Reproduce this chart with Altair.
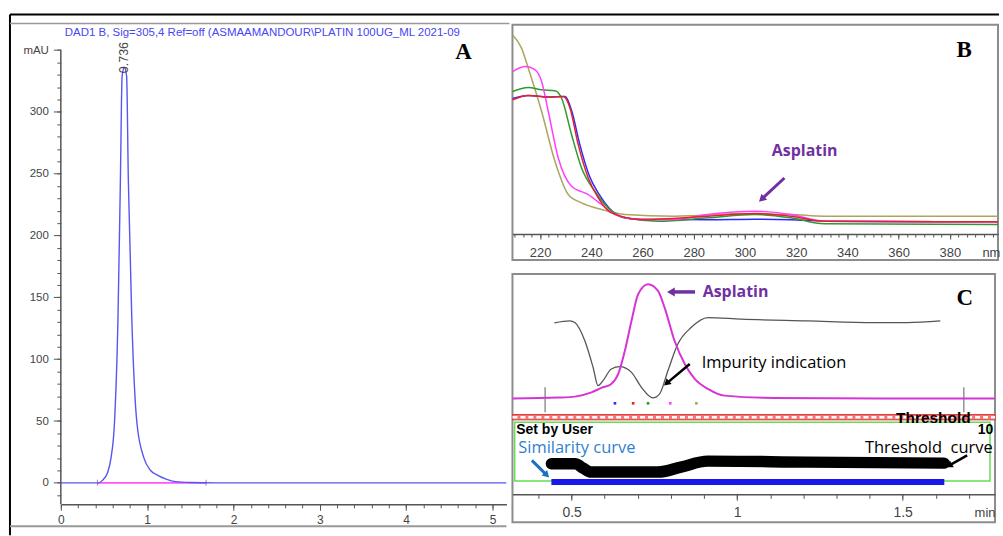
import altair as alt
import pandas as pd

# ================= Panel A : chromatogram =================
a_title = "DAD1 B, Sig=305,4 Ref=off (ASMAAMANDOUR\\PLATIN 100UG_ML 2021-09"
a_time = [0.0, 0.44, 0.481, 0.54, 0.581, 0.621, 0.662, 0.69, 0.71, 0.736, 0.762,
          0.782, 0.822, 0.882, 0.963, 1.04, 1.124, 1.22, 1.325, 1.5, 1.8, 5.16]
a_mau = [0, 0, 2, 8, 20, 48, 133, 245, 329, 336, 329,
         245, 133, 48, 20, 10, 6, 3, 1, 0.3, 0, 0]
a_base_time = [0.424, 1.682]
a_base_mau = [0, 0]
a_peak_label = ["0.736"]
a_x_major = [0, 1, 2, 3, 4, 5]
a_x_minor = [round(i * 0.2, 1) for i in range(0, 26)]
a_y_major = [0, 50, 100, 150, 200, 250, 300, 350]
a_y_minor = list(range(-10, 351, 10))

# ================= Panel B : UV spectra =================
b_names = ["olive", "blue", "green", "magenta", "red"]
b_colors = ["#ABA55E", "#2B2BFF", "#2E9A2E", "#FF3EFF", "#E8202A"]
b_olive_nm = [209.3, 212.8, 215.4, 220.6, 225.8, 231.0, 236.2, 244.0, 253.1, 272.5, 298.5, 317.9, 330.9, 398.8]
b_olive = [199.7, 186.3, 166.3, 123, 73, 39.7, 31.3, 24.7, 19.7, 18, 20.3, 19.7, 18, 18]
b_magenta_nm = [209.3, 214.2, 218.1, 220.6, 223.2, 227.1, 232.3, 238.8, 244.0, 249.2, 259.6, 272.5, 285.5, 303.7, 317.9, 330.9, 398.8]
b_magenta = [163, 168, 164.7, 153, 123, 76.3, 48, 39.7, 29.7, 19.7, 14.7, 14.7, 19.7, 23, 19.7, 13, 12.3]
b_green_nm = [209.3, 215.4, 220.6, 225.8, 228.4, 232.3, 236.2, 241.4, 246.6, 253.1, 266.0, 285.5, 303.7, 317.9, 330.9, 398.8]
b_green = [143, 147, 144.7, 143.7, 136.3, 99.7, 66.3, 43, 26.3, 16.3, 13, 16.3, 19.7, 16.3, 10.3, 9.7]
b_red_nm = [209.3, 215.4, 223.2, 229.1, 231.7, 234.9, 238.8, 242.7, 247.9, 259.6, 285.5, 303.7, 317.9, 330.9, 398.8]
b_red = [134.7, 139, 137.3, 138, 126.3, 89.7, 56.3, 36.3, 21.3, 14.7, 18, 20.7, 18, 13, 12.3]
b_blue_nm = [209.3, 215.4, 223.2, 229.8, 232.3, 235.5, 239.3, 243.0, 247.0, 252.0, 259.6, 285.5, 303.7, 317.9, 330.9, 398.8]
b_blue = [136, 139, 137.5, 138, 124, 90, 58, 40, 26, 17, 14.7, 14.5, 15, 14.5, 13, 12.3]
b_x_major = [220, 240, 260, 280, 300, 320, 340, 360, 380]
b_x_minor = [round(210 + i * 20 / 6, 2) for i in range(0, 57)]

# ================= Panel C : peak purity =================
c_mag_t = [0.321, 0.46, 0.51, 0.56, 0.59, 0.62, 0.641, 0.661, 0.681, 0.701, 0.731,
           0.761, 0.781, 0.811, 0.842, 0.872, 0.912, 0.962, 1.113, 1.779]
c_mag_v = [-0.3, 0.7, 1.7, 6, 10.4, 14.4, 24.4, 47.7, 77.7, 104.4, 114.4,
           107.7, 91, 57.7, 34.4, 19.4, 9.4, 2.7, 0.4, -0.3]
c_ratio_t = [0.448, 0.495, 0.51, 0.54, 0.565, 0.58, 0.595, 0.62, 0.646, 0.681, 0.711,
             0.746, 0.766, 0.791, 0.821, 0.861, 0.912, 1.012, 1.213, 1.414, 1.514, 1.614]
c_ratio_v = [75.7, 77.7, 76, 57.7, 31, 12.7, 17.7, 29.4, 31.7, 26, 11,
             0.4, 4.4, 27.7, 54.4, 71, 81, 79.4, 77.7, 76, 76, 77.7]
c_mark_t = [0.42, 1.685]
c_dot_t = [0.631, 0.686, 0.731, 0.798, 0.877]
c_dot_names = ["blue", "red", "green", "magenta", "olive"]
c_dot_colors = ["#4040FF", "#FF4040", "#40B040", "#FF40FF", "#B0B050"]
c_thr_t = [0.439, 0.511, 0.535, 0.559, 0.761, 0.83, 0.911, 1.212, 1.625]
c_thr_v = [-65.6, -65.6, -70, -74, -74, -69, -63, -64, -65]
c_sim_t = [0.439, 1.626]
c_sim_v = [-84, -84]
c_x_major = [0.5, 1, 1.5]
c_x_minor = [round(0.4 + i * 0.1, 1) for i in range(0, 14)]

# ================= scales (plot geometry) =================
xA = alt.Scale(domain=[0, 5.1617], nice=False, zero=False)
yA = alt.Scale(domain=[-17.34, 370.56], nice=False, zero=False)
xB = alt.Scale(domain=[209.22, 398.79], nice=False, zero=False)
yB = alt.Scale(domain=[-26, 210], nice=False, zero=False)
xC = alt.Scale(domain=[0.3214, 1.7792], nice=False, zero=False)
yC = alt.Scale(domain=[-124.3, 124.7], nice=False, zero=False)


def xy(df, xs, ys, xf="x", yf="y"):
    return dict(x=alt.X(f"{xf}:Q", scale=xs, axis=None), y=alt.Y(f"{yf}:Q", scale=ys, axis=None))


def text(rows, xs, ys, **mk):
    df = pd.DataFrame(rows)
    return alt.Chart(df).mark_text(**mk).encode(text="label:N", **xy(df, xs, ys))


def arrows(rows, xs, ys, color, width, size):
    df = pd.DataFrame(rows)
    shaft = alt.Chart(df).mark_rule(color=color, strokeWidth=width).encode(
        x=alt.X("x0:Q", scale=xs, axis=None), y=alt.Y("y0:Q", scale=ys, axis=None),
        x2="x1:Q", y2="y1:Q")
    head = alt.Chart(df).mark_point(shape="triangle-up", filled=True, color=color,
                                    size=size, opacity=1).encode(
        x=alt.X("x1:Q", scale=xs, axis=None), y=alt.Y("y1:Q", scale=ys, axis=None),
        angle=alt.Angle("ang:Q", scale=None))
    return shaft + head


AXC = dict(domainColor="#555", tickColor="#555", labelColor="#444", grid=False, labelFlush=False)

# ---------------- Panel A ----------------
dfA = pd.DataFrame({"x": a_time, "y": a_mau})
a_axes_major = alt.Chart(dfA).mark_line(strokeOpacity=0).encode(
    x=alt.X("x:Q", scale=xA, title=None,
            axis=alt.Axis(orient="bottom", values=a_x_major, tickSize=6, labelPadding=4,
                          labelFont="Liberation Sans", labelFontSize=12, domainWidth=1.5, **AXC)),
    y=alt.Y("y:Q", scale=yA, title=None,
            axis=alt.Axis(orient="left", values=a_y_major, tickSize=7.5, labelPadding=5, domain=False,
                          labelFont="Liberation Sans", labelFontSize=11.5,
                          labelExpr="datum.value >= 350 ? 'mAU' : datum.label", **AXC)))
a_axes_minor = alt.Chart(dfA).mark_line(strokeOpacity=0).encode(
    x=alt.X("x:Q", scale=xA, title=None,
            axis=alt.Axis(orient="bottom", values=a_x_minor, tickSize=3.5, labels=False, domain=False, **AXC)),
    y=alt.Y("y:Q", scale=yA, title=None,
            axis=alt.Axis(orient="left", values=a_y_minor, tickSize=4, labels=False, domain=False, **AXC)))
a_yline = alt.Chart(alt.Data(values=[{}])).mark_rule(color="#555", strokeWidth=1.5).encode(
    x=alt.value(0), y=alt.YDatum(350, axis=None), y2=alt.value(481))
dfAb = pd.DataFrame({"x": a_base_time, "y": a_base_mau})
a_base = alt.Chart(dfAb).mark_line(color="#FF55FF", strokeWidth=1.6).encode(**xy(dfAb, xA, yA))
a_base_ticks = alt.Chart(dfAb).mark_tick(color="#666", size=6, thickness=1, orient="vertical").encode(**xy(dfAb, xA, yA))
a_curve = alt.Chart(dfA).mark_line(color="#5656F2", strokeWidth=1.4, interpolate="monotone").encode(**xy(dfA, xA, yA))
a_peak_txt = text([{"x": 0.736, "y": 344, "label": a_peak_label[0]}], xA, yA,
                  angle=270, font="Liberation Sans", fontSize=12.5, color="#444",
                  align="center", baseline="middle")
a_title_txt = text([{"x": 0.046, "y": 364.1, "label": a_title}], xA, yA,
                   font="Liberation Sans", fontSize=11.5, color="#4646F5", align="left", baseline="middle")
a_letter = text([{"x": 4.665, "y": 348.8, "label": "A"}], xA, yA,
                font="Liberation Serif", fontSize=23, fontWeight="bold", color="black",
                align="center", baseline="middle")
frame_v = alt.Chart(alt.Data(values=[{}])).mark_rule(color="black", strokeWidth=2).encode(
    x=alt.value(-51), y=alt.value(-10.3), y2=alt.value(512))
frame_top = alt.Chart(alt.Data(values=[{}])).mark_rule(color="black", strokeWidth=2).encode(
    x=alt.value(-51), x2=alt.value(941), y=alt.value(-10.3))
frame_g1 = alt.Chart(alt.Data(values=[{}])).mark_rule(color="#999", strokeWidth=1.5).encode(
    x=alt.value(-51), x2=alt.value(450), y=alt.value(-1.3))
frame_g2 = alt.Chart(alt.Data(values=[{}])).mark_rule(color="#999", strokeWidth=2).encode(
    x=alt.value(-51), x2=alt.value(447), y=alt.value(503))

panelA = alt.layer(a_axes_major, a_axes_minor, frame_v, frame_top, frame_g1, frame_g2,
                   a_yline, a_base_ticks, a_base, a_curve, a_peak_txt, a_title_txt, a_letter
                   ).resolve_axis(x="independent", y="independent").properties(width=447, height=481)

# ---------------- Panel B ----------------
rowsB = []
for name, xs_, ys_ in [("olive", b_olive_nm, b_olive), ("blue", b_blue_nm, b_blue),
                       ("green", b_green_nm, b_green), ("magenta", b_magenta_nm, b_magenta),
                       ("red", b_red_nm, b_red)]:
    for i, (a, b) in enumerate(zip(xs_, ys_)):
        rowsB.append({"s": name, "x": a, "y": b, "o": i})
dfB = pd.DataFrame(rowsB)
b_axis_major = alt.Chart(dfB).mark_line(strokeOpacity=0).encode(
    x=alt.X("x:Q", scale=xB, title=None,
            axis=alt.Axis(orient="bottom", offset=-26, values=b_x_major, tickSize=5, labelPadding=7,
                          labelFont="Liberation Sans", labelFontSize=13, domainWidth=1.5, **AXC)),
    y=alt.Y("y:Q", scale=yB, axis=None), detail="s:N")
b_axis_minor = alt.Chart(dfB).mark_line(strokeOpacity=0).encode(
    x=alt.X("x:Q", scale=xB, title=None,
            axis=alt.Axis(orient="bottom", offset=-26, values=b_x_minor, tickSize=3, labels=False,
                          domain=False, **AXC)),
    y=alt.Y("y:Q", scale=yB, axis=None), detail="s:N")
b_curves = alt.Chart(dfB).mark_line(strokeWidth=1.5, interpolate="monotone").encode(
    color=alt.Color("s:N", scale=alt.Scale(domain=b_names, range=b_colors), legend=None),
    order="o:Q", **xy(dfB, xB, yB))
b_asp = text([{"x": 323.3, "y": 83, "label": "Asplatin"}], xB, yB,
             font="Open Sans", fontSize=16, fontWeight="bold", color="#7030A0", align="center", baseline="middle")
b_arrow = arrows([{"x0": 315.4, "y0": 56.3, "x1": 306.5, "y1": 35, "ang": 227}], xB, yB, "#7030A0", 3, 70)
b_nm = text([{"x": 396.2, "y": -18.7, "label": "nm"}], xB, yB,
            font="Liberation Sans", fontSize=13, color="#444", align="center", baseline="middle")
b_letter = text([{"x": 385.6, "y": 185, "label": "B"}], xB, yB,
                font="Liberation Serif", fontSize=23, fontWeight="bold", color="black",
                align="center", baseline="middle")
panelB = alt.layer(b_axis_major, b_axis_minor, b_curves, b_asp, b_arrow, b_nm, b_letter
                   ).resolve_axis(x="independent").properties(
    width=487, height=236, view=alt.ViewBackground(stroke="#8c8c8c", strokeWidth=2, fill="white"))

# ---------------- Panel C ----------------
dfCm = pd.DataFrame({"x": c_mag_t, "y": c_mag_v})
dfCr = pd.DataFrame({"x": c_ratio_t, "y": c_ratio_v})
c_axis_major = alt.Chart(dfCm).mark_line(strokeOpacity=0).encode(
    x=alt.X("x:Q", scale=xC, title=None,
            axis=alt.Axis(orient="bottom", offset=-28, values=c_x_major, tickSize=6, labelPadding=5,
                          format="~g", labelFont="Liberation Sans", labelFontSize=14,
                          domainWidth=1.5, **AXC)),
    y=alt.Y("y:Q", scale=yC, axis=None))
c_axis_minor = alt.Chart(dfCm).mark_line(strokeOpacity=0).encode(
    x=alt.X("x:Q", scale=xC, title=None,
            axis=alt.Axis(orient="bottom", offset=-28, values=c_x_minor, tickSize=4, labels=False,
                          domain=False, **AXC)),
    y=alt.Y("y:Q", scale=yC, axis=None))
dfMark = pd.DataFrame({"x": c_mark_t, "y": [-14, -14], "y2": [11, 11]})
c_marks = alt.Chart(dfMark).mark_rule(color="#777", strokeWidth=1.2).encode(
    x=alt.X("x:Q", scale=xC, axis=None), y=alt.Y("y:Q", scale=yC, axis=None), y2="y2:Q")
dfDots = pd.DataFrame({"x": c_dot_t, "y": [-5] * len(c_dot_t), "s": c_dot_names})
c_dots = alt.Chart(dfDots).mark_square(size=7, opacity=1).encode(
    color=alt.Color("s:N", scale=alt.Scale(domain=c_dot_names, range=c_dot_colors), legend=None),
    **xy(dfDots, xC, yC))
dfBand = pd.DataFrame({"x": [0.3214], "x2": [1.7792], "y": [-16.3], "y2": [-21.6]})
c_band = alt.Chart(dfBand).mark_rect(fill="#F07878", stroke="#E83030", strokeWidth=1).encode(
    x=alt.X("x:Q", scale=xC, axis=None), x2="x2:Q", y=alt.Y("y:Q", scale=yC, axis=None), y2="y2:Q")
dfBandMid = pd.DataFrame({"x": [0.3214, 1.7792], "y": [-18.95, -18.95]})
c_band_hatch = alt.Chart(dfBandMid).mark_line(color="white", strokeWidth=2.5, strokeDash=[5, 3]).encode(
    **xy(dfBandMid, xC, yC))
dfBox = pd.DataFrame({"x": [0.328], "x2": [1.764], "y": [-24], "y2": [-83]})
c_box = alt.Chart(dfBox).mark_rect(fill="white", fillOpacity=0, stroke="#66DD55", strokeWidth=1.5).encode(
    x=alt.X("x:Q", scale=xC, axis=None), x2="x2:Q", y=alt.Y("y:Q", scale=yC, axis=None), y2="y2:Q")
c_mag = alt.Chart(dfCm).mark_line(color="#D535D5", strokeWidth=2, interpolate="monotone").encode(**xy(dfCm, xC, yC))
c_ratio = alt.Chart(dfCr).mark_line(color="#555", strokeWidth=1.3, interpolate="monotone").encode(**xy(dfCr, xC, yC))
dfThr = pd.DataFrame({"x": c_thr_t, "y": c_thr_v})
c_thr = alt.Chart(dfThr).mark_line(color="black", strokeWidth=11.5, strokeCap="round",
                                   interpolate="monotone").encode(**xy(dfThr, xC, yC))
dfSim = pd.DataFrame({"x": c_sim_t, "y": c_sim_v})
c_sim = alt.Chart(dfSim).mark_line(color="#1818E8", strokeWidth=6).encode(**xy(dfSim, xC, yC))
LAB = dict(font="Open Sans", fontSize=16.5, baseline="middle")
c_txt_asp = text([{"x": 0.896, "y": 106.7, "label": "Asplatin"}], xC, yC, color="#7030A0",
                 font="Open Sans", fontSize=16, fontWeight="bold", align="left", baseline="middle")
c_txt_imp = text([{"x": 0.893, "y": 35.7, "label": "Impurity indication"}], xC, yC, color="black",
                 align="left", **LAB)
c_txt_sim = text([{"x": 0.339, "y": -50, "label": "Similarity curve"}], xC, yC, color="#2F7FD0",
                 align="left", **LAB)
c_txt_thc = text([{"x": 1.772, "y": -50, "label": "Threshold\u00a0 curve"}], xC, yC, color="black",
                 align="right", **LAB)
c_txt_thr = text([{"x": 1.593, "y": -19.3, "label": "Threshold"}], xC, yC, color="black",
                 font="Liberation Sans", fontSize=15.5, fontWeight="bold", align="center", baseline="middle")
c_txt_set = text([{"x": 0.333, "y": -31.5, "label": "Set by User"}], xC, yC, color="black",
                 font="Liberation Sans", fontSize=14, fontWeight="bold", align="left", baseline="middle")
c_txt_10 = text([{"x": 1.774, "y": -31.5, "label": "10"}], xC, yC, color="black",
                font="Liberation Sans", fontSize=14, fontWeight="bold", align="right", baseline="middle")
c_txt_min = text([{"x": 1.749, "y": -115.3, "label": "min"}], xC, yC, color="#444",
                 font="Liberation Sans", fontSize=13, align="center", baseline="middle")
c_letter = text([{"x": 1.688, "y": 100.7, "label": "C"}], xC, yC,
                font="Liberation Serif", fontSize=23, fontWeight="bold", color="black",
                align="center", baseline="middle")
c_arr_p = arrows([{"x0": 0.873, "y0": 106.7, "x1": 0.80, "y1": 106.7, "ang": 270}], xC, yC, "#7030A0", 3.5, 80)
c_arr_k = arrows([{"x0": 0.857, "y0": 34.4, "x1": 0.787, "y1": 15, "ang": 229},
                  {"x0": 1.695, "y0": -57.3, "x1": 1.64, "y1": -67.5, "ang": 240}], xC, yC, "black", 2.5, 60)
c_arr_b = arrows([{"x0": 0.380, "y0": -62.3, "x1": 0.425, "y1": -77, "ang": 135}], xC, yC, "#1F6FC0", 3, 60)

panelC = alt.layer(c_axis_major, c_axis_minor, c_box, c_band, c_band_hatch, c_marks, c_dots,
                   c_ratio, c_mag, c_thr, c_sim, c_txt_asp, c_txt_imp, c_txt_sim, c_txt_thc,
                   c_txt_thr, c_txt_set, c_txt_10, c_txt_min, c_letter, c_arr_p, c_arr_k, c_arr_b
                   ).resolve_axis(x="independent").properties(
    width=484, height=249, view=alt.ViewBackground(stroke="#8c8c8c", strokeWidth=2, fill="white"))

right = alt.vconcat(panelB, panelC, spacing=14, bounds="flush")
chart = alt.hconcat(panelA, right, spacing=6, bounds="flush").properties(
    padding={"left": 9, "top": 12, "right": 0, "bottom": 0}
).configure_view(strokeWidth=0)

chart.save("out.html", embed_options={"renderer": "svg", "actions": False})
